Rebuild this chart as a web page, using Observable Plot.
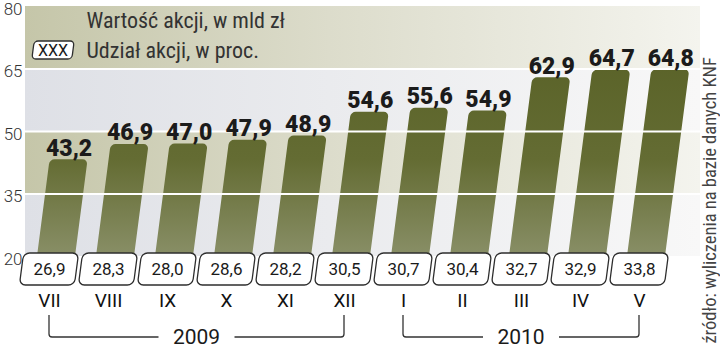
<!DOCTYPE html>
<html><head><meta charset="utf-8">
<script src="https://cdn.jsdelivr.net/npm/d3@7"></script>
<script src="https://cdn.jsdelivr.net/npm/@observablehq/plot@0.6"></script>
<style>
html,body{margin:0;padding:0;background:#fff;}
#chart svg{display:block;}
</style></head><body><div id="chart"></div>
<script>
const months = ["VII","VIII","IX","X","XI","XII","I","II","III","IV","V"];
const stockValue = [43.2,46.9,47.0,47.9,48.9,54.6,55.6,54.9,62.9,64.7,64.8];
const stockShare = [26.9,28.3,28.0,28.6,28.2,30.5,30.7,30.4,32.7,32.9,33.8];
const yTicks = [20,35,50,65,80];
const years = [{label:"2009", from:"VII", to:"XII"}, {label:"2010", from:"I", to:"V"}];
const legendValue = "Wartość akcji, w mld zł";
const legendShare = "Udział akcji, w proc.";
const legendSample = "XXX";
const source = "źródło: wyliczenia na bazie danych KNF";

const NARROW = '"Liberation Sans Narrow", "Roboto Condensed", "Arial Narrow", Roboto, sans-serif';
const K = 0.13;        // slant of bars/boxes
const BAR_PIVOT = 310; // y (px) where the bar slant is anchored
const BOX_PIVOT = 269;

const fmt = v => d3.format(".1f")(v).replace(".", ",");
const data = months.map((m,i)=>({month:m, value:stockValue[i], share:stockShare[i]}));
const bands = yTicks.slice(0,-1).map((t,i)=>({lo:t, hi:yTicks[i+1], kind: i%2===0 ? "grey":"olive"}));

const markList = [
  ["bgOlive", Plot.rect(bands.filter(b=>b.kind==="olive"), {y1:"lo", y2:"hi", fill:"url(#bgOlive)"})],
  ["bgGrey", Plot.rect(bands.filter(b=>b.kind==="grey"), {y1:"lo", y2:"hi", fill:"url(#bgGrey)"})],
  ["bars", Plot.barY(data, {x:"month", y1:20, y2:"value", insetBottom:-8, rx:5, fill:"url(#barGrad)"})],
  ["grid", Plot.ruleY(yTicks.slice(1,-1), {stroke:"#fff", strokeWidth:2})],
  ["valueLabels", Plot.text(data, {x:"month", y:"value", text:d=>fmt(d.value), lineAnchor:"bottom", dy:-4, fontSize:23, fontWeight:900, fill:"#1b1b1b"})],
  ["boxes", Plot.barY(data, {x:"month", y1:20, y2:20, insetTop:-3, insetBottom:-29, insetLeft:-8.5, insetRight:-8.5, rx:6, fill:"#fff", stroke:"#2e2e2e", strokeWidth:1.3})],
  ["shares", Plot.text(data, {x:"month", text:d=>fmt(d.share), frameAnchor:"bottom", lineAnchor:"middle", dy:13, fontSize:17, fill:"#1a1a1a"})],
  ["months", Plot.text(months, {x:d=>d, text:d=>d, frameAnchor:"bottom", lineAnchor:"middle", dy:44, fontSize:19, fill:"#111"})],
  ["yLabels", Plot.text(yTicks, {y:d=>d, text:d=>String(d), frameAnchor:"left", lineAnchor:"middle", textAnchor:"end", dx:-3, dy:3, fontSize:17, fontWeight:300, fill:"#333"})],
  ["legend1", Plot.text([legendValue], {frameAnchor:"top-left", lineAnchor:"middle", dx:61, dy:14, textAnchor:"start", fontSize:22, fill:"#333", fontFamily:NARROW})],
  ["legend2", Plot.text([legendShare], {frameAnchor:"top-left", lineAnchor:"middle", dx:61, dy:44, textAnchor:"start", fontSize:22, fill:"#333", fontFamily:NARROW})],
  ["source", Plot.text([source], {frameAnchor:"bottom-right", lineAnchor:"middle", rotate:-90, textAnchor:"start", dx:10, dy:87, fontSize:18.5, fill:"#444", fontFamily:NARROW})]
];

const chart = Plot.plot({
  width: 720, height: 356,
  marginTop: 6, marginBottom: 100, marginLeft: 25, marginRight: 20,
  style: {fontFamily: "Roboto, sans-serif", background: "#fff", color:"#222"},
  x: {domain: months, range: [17.9, 669.9], paddingInner: 0.36, paddingOuter: 0.18, axis: null},
  y: {domain: [20, 80], axis: null},
  marks: markList.map(d => d[1])
});
document.getElementById("chart").appendChild(chart);

const svgNode = chart.tagName.toLowerCase()==="svg" ? chart : chart.querySelector("svg");
const svg = d3.select(svgNode);
const groups = Array.from(svgNode.children).filter(n => n.tagName.toLowerCase()==="g");
const groupOf = name => groups[markList.findIndex(d => d[0]===name)];

const defs = svg.insert("defs", ":first-child");
function grad(id, stops, attrs) {
  const g = defs.append("linearGradient").attr("id", id);
  Object.entries(attrs).forEach(([k,v])=>g.attr(k,v));
  stops.forEach(([o,c])=>g.append("stop").attr("offset", o).attr("stop-color", c));
}
grad("bgOlive", [[0,"#c5c6a9"],[0.45,"#dcdccb"],[1,"#f4f4ee"]], {x1:0,x2:1,y1:0,y2:0});
grad("bgGrey", [[0,"#dee0e6"],[0.45,"#eaebee"],[1,"#f8f8f8"]], {x1:0,x2:1,y1:0,y2:0});
grad("barGrad", [[0,"#555e23"],[0.6,"#646c33"],[1,"#8b916a"]], {gradientUnits:"userSpaceOnUse", x1:0,x2:0,y1:6,y2:262});

const xs = chart.scale("x"), ys = chart.scale("y");
const cx = m => xs.apply(m) + xs.bandwidth/2;
const y0 = ys.apply(20);

function skewGroup(name, pivot) {
  const g = groupOf(name);
  if (!g) return;
  const t = g.getAttribute("transform") || "";
  g.setAttribute("transform", `matrix(1,0,${-K},1,${K*pivot},0) ${t}`);
}
skewGroup("bars", BAR_PIVOT);
skewGroup("boxes", BOX_PIVOT);
const lblG = groupOf("valueLabels");
if (lblG) Array.from(lblG.querySelectorAll("text")).forEach((el, i) => {
  const shift = K * (BAR_PIVOT - ys.apply(data[i].value));
  const t = el.getAttribute("transform") || "";
  el.setAttribute("transform", `translate(${shift},0) ${t}`);
});

// year brackets
const gy = svg.append("g").attr("fill","none").attr("stroke","#333").attr("stroke-width",1.3);
const yt = svg.append("g").attr("font-size",21).attr("fill","#1a1a1a").attr("text-anchor","middle");
years.forEach(yr => {
  const a = cx(yr.from), b = cx(yr.to), mid = (a+b)/2;
  const top = y0 + 59, bot = y0 + 81, gap = 38;
  gy.append("path").attr("d", `M${a},${top}V${bot-3}Q${a},${bot} ${a+3},${bot}H${mid-gap}M${mid+gap},${bot}H${b-3}Q${b},${bot} ${b},${bot-3}V${top}`);
  yt.append("text").attr("x", mid).attr("y", bot).attr("dy","0.35em").text(yr.label);
});

// legend sample box
const lg = svg.append("g");
lg.append("rect").attr("x",33).attr("y",41).attr("width",40).attr("height",18).attr("rx",4)
  .attr("fill","#fff").attr("stroke","#2e2e2e").attr("stroke-width",1.3)
  .attr("transform", `matrix(1,0,${-K},1,${K*50},0)`);
lg.append("text").attr("x",53).attr("y",50).attr("dy","0.35em").attr("text-anchor","middle")
  .attr("font-size",16).attr("fill","#1a1a1a").text(legendSample);
</script></body></html>
